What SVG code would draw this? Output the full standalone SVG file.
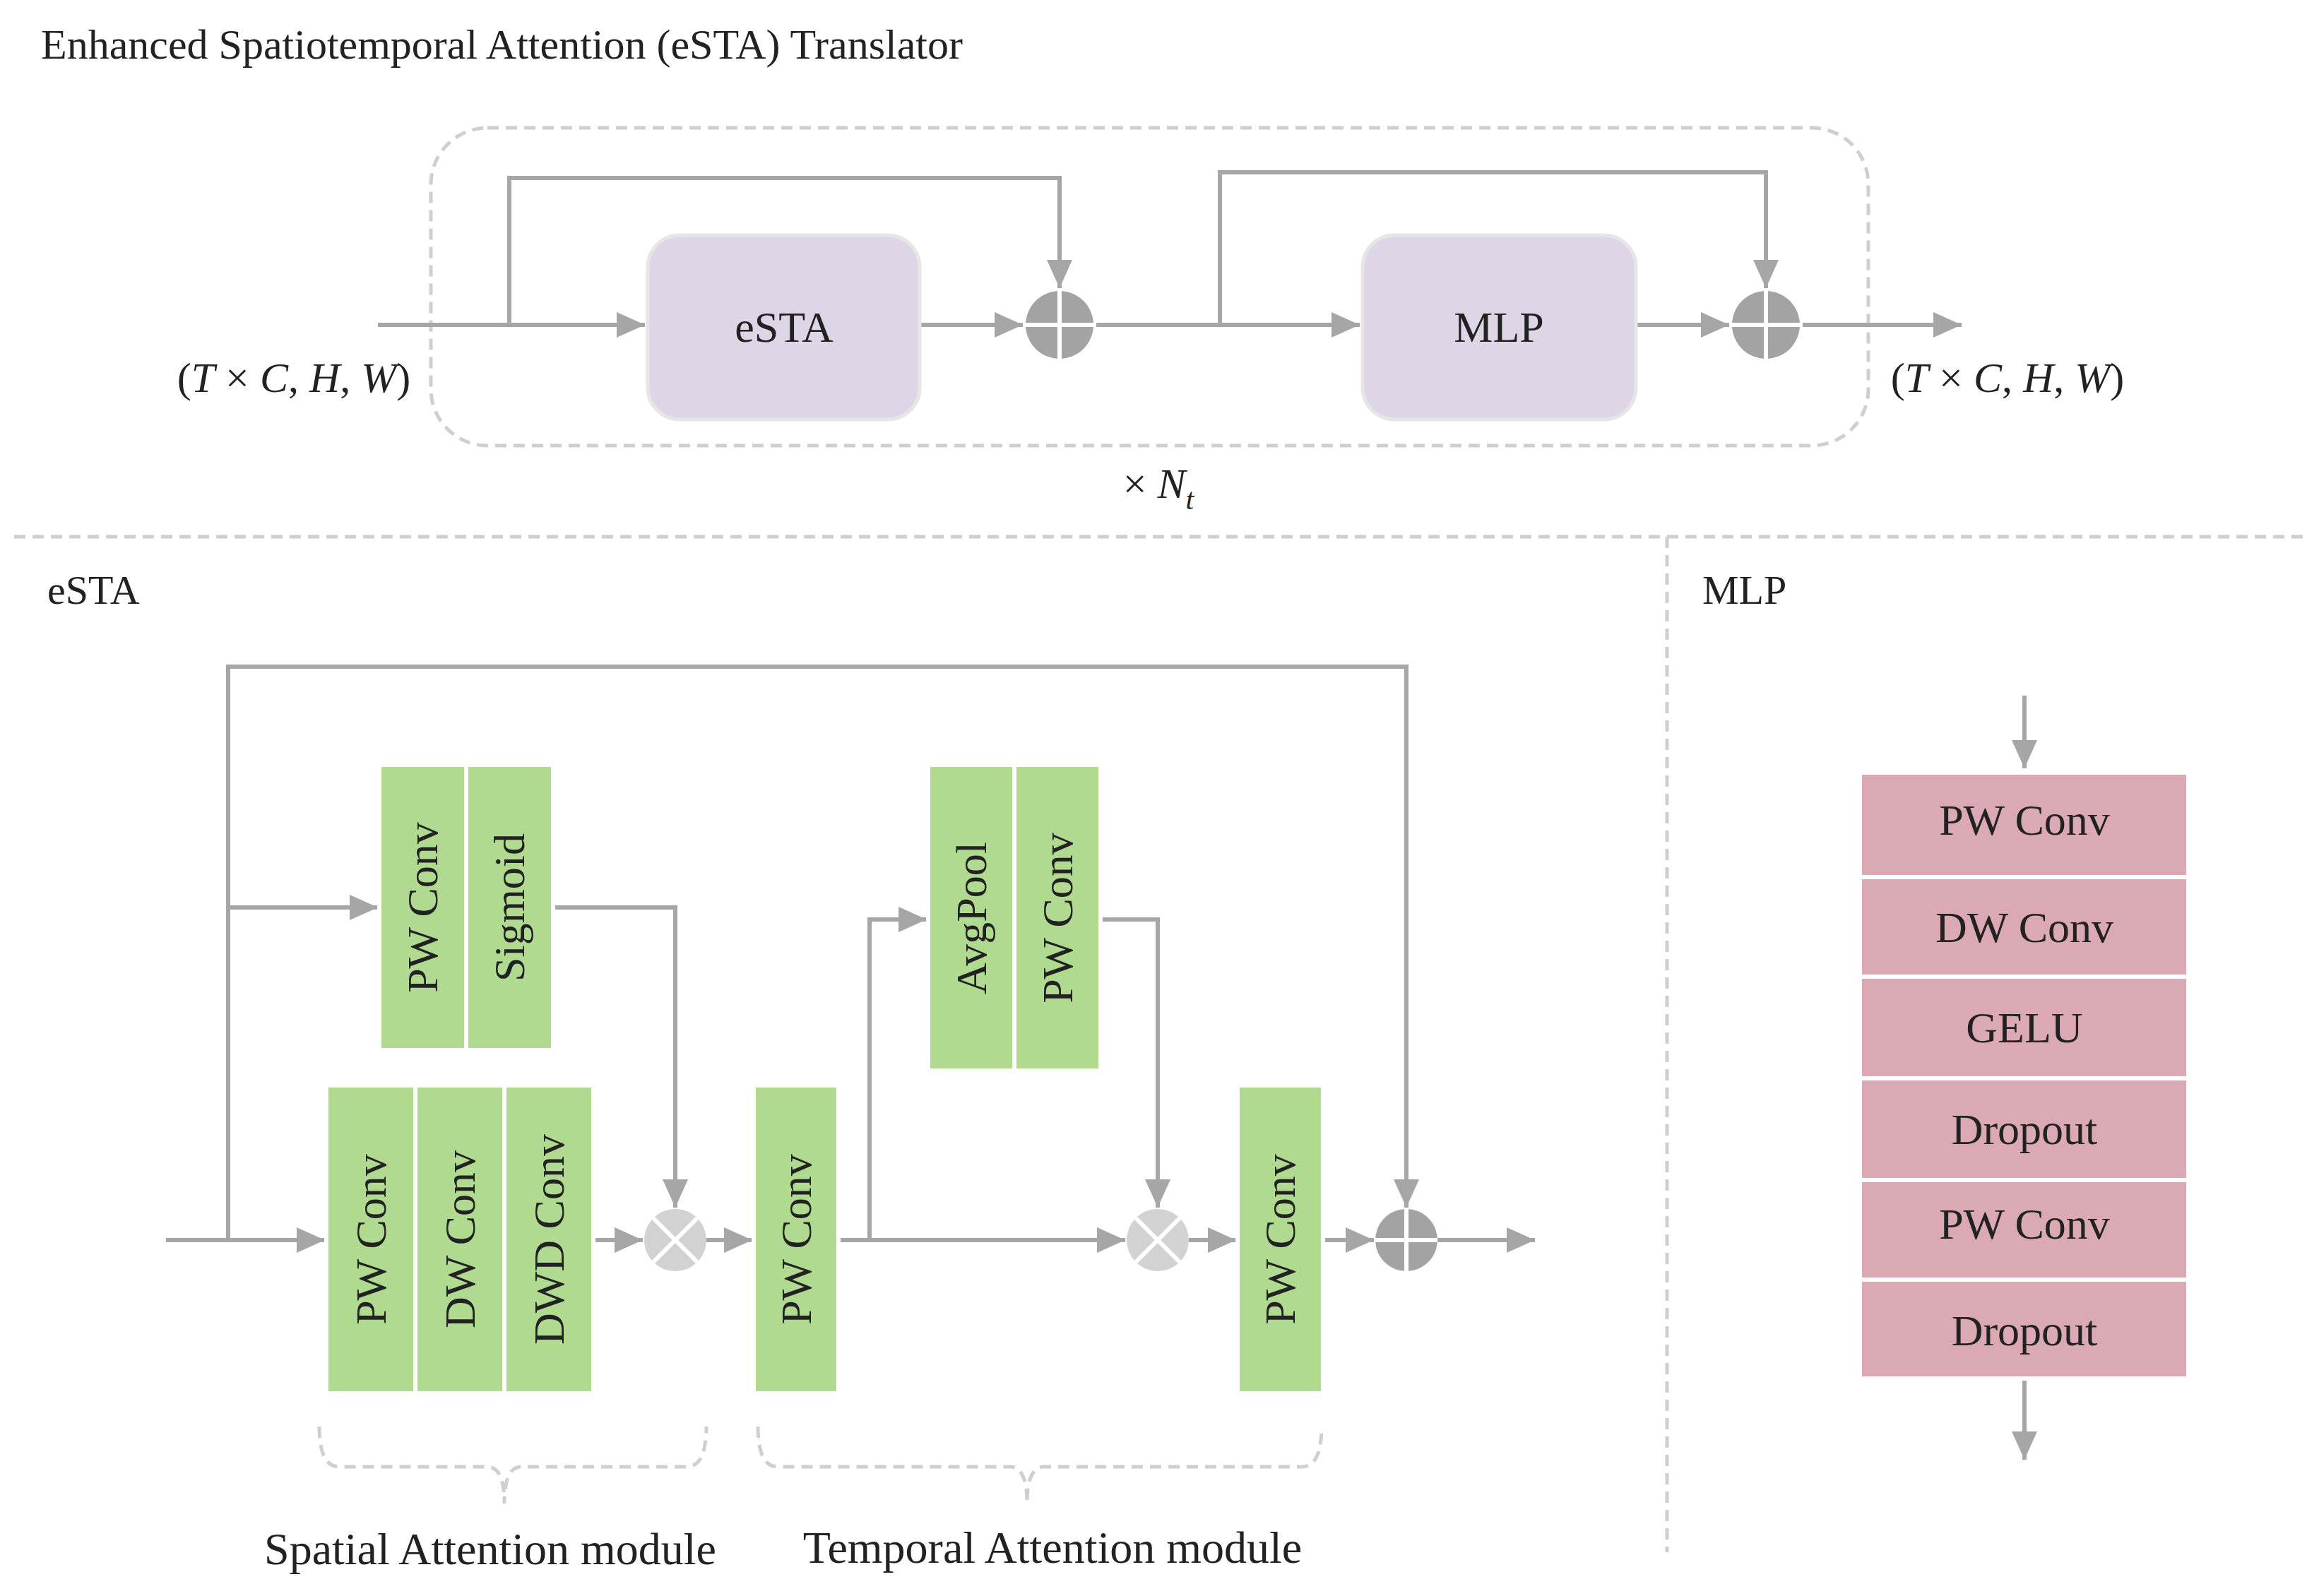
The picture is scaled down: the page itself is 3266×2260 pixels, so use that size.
<svg xmlns="http://www.w3.org/2000/svg" width="3266" height="2260" viewBox="0 0 3266 2260">
<defs>
<style>
text{font-family:"Liberation Serif","Times New Roman",serif;fill:#222}
.ln{fill:none;stroke:#a6a6a6;stroke-width:6}
.bx{fill:#b0da90;stroke:#ffffff;stroke-width:6}
.mb{fill:#dba9b3;stroke:#ffffff;stroke-width:6}
.pb{fill:#ded6e6;stroke:#e6e6e6;stroke-width:5}
.t{font-size:62px;text-anchor:middle;dominant-baseline:central}
.dash{fill:none;stroke:#cfcfcf;stroke-width:5;stroke-dasharray:16 10}
.plus{fill:#a3a3a3}
.mul{fill:#d2d2d2}
.cr{stroke:#fff;stroke-width:6}
.m{font-style:italic}
</style>
<marker id="a" markerUnits="userSpaceOnUse" markerWidth="44" markerHeight="40" refX="40" refY="20" orient="auto"><path d="M0,2 L40,20 L0,38 Z" fill="#a6a6a6"/></marker>
</defs>
<rect width="3266" height="2260" fill="#fff"/>
<text x="58" y="83" font-size="60">Enhanced Spatiotemporal Attention (eSTA) Translator</text>
<rect class="dash" x="610" y="181" width="2035" height="450" rx="80"/>
<line class="dash" x1="20" y1="760" x2="3266" y2="760"/>
<line class="dash" x1="2360" y1="760" x2="2360" y2="2198"/>
<text x="416" y="555" font-size="60" text-anchor="middle">(<tspan class="m">T</tspan> × <tspan class="m">C</tspan>, <tspan class="m">H</tspan>, <tspan class="m">W</tspan>)</text>
<text x="2842" y="555" font-size="60" text-anchor="middle">(<tspan class="m">T</tspan> × <tspan class="m">C</tspan>, <tspan class="m">H</tspan>, <tspan class="m">W</tspan>)</text>
<text x="1640" y="705" font-size="60" text-anchor="middle">× <tspan class="m">N</tspan><tspan class="m" font-size="42" dy="16">t</tspan></text>
<text x="67" y="855" font-size="58">eSTA</text>
<text x="2410" y="855" font-size="58">MLP</text>
<g id="connectors">
<path class="ln" d="M535,460 H913" marker-end="url(#a)"/>
<path class="ln" d="M721,460 V252 H1500 V408" marker-end="url(#a)"/>
<path class="ln" d="M1302,460 H1448" marker-end="url(#a)"/>
<path class="ln" d="M1552,460 H1925" marker-end="url(#a)"/>
<path class="ln" d="M1727,460 V244 H2500 V408" marker-end="url(#a)"/>
<path class="ln" d="M2316,460 H2448" marker-end="url(#a)"/>
<path class="ln" d="M2552,460 H2777" marker-end="url(#a)"/>
<path class="ln" d="M235,1756 H460" marker-end="url(#a)"/>
<path class="ln" d="M323,1756 V944 H1991 V1710" marker-end="url(#a)"/>
<path class="ln" d="M323,1285 H535" marker-end="url(#a)"/>
<path class="ln" d="M785,1285 H956 V1710" marker-end="url(#a)"/>
<path class="ln" d="M843,1756 H910" marker-end="url(#a)"/>
<path class="ln" d="M1000,1756 H1065" marker-end="url(#a)"/>
<path class="ln" d="M1189,1756 H1593" marker-end="url(#a)"/>
<path class="ln" d="M1231,1756 V1302 H1312" marker-end="url(#a)"/>
<path class="ln" d="M1560,1302 H1639 V1710" marker-end="url(#a)"/>
<path class="ln" d="M1683,1756 H1750" marker-end="url(#a)"/>
<path class="ln" d="M1875,1756 H1945" marker-end="url(#a)"/>
<path class="ln" d="M2035,1756 H2173" marker-end="url(#a)"/>
<path class="ln" d="M2866,985 V1088" marker-end="url(#a)"/>
<path class="ln" d="M2866,1955 V2067" marker-end="url(#a)"/>
</g>
<g id="esta-box"><rect class="pb" x="917" y="333" width="385" height="261" rx="45"/><text class="t" x="1110" y="463">eSTA</text></g>
<g id="mlp-box"><rect class="pb" x="1929" y="333" width="387" height="261" rx="45"/><text class="t" x="2122" y="463">MLP</text></g>
<g id="add1"><circle class="plus" cx="1500" cy="460" r="48"/><path class="cr" d="M1452,460 H1548 M1500,412 V508"/></g>
<g id="add2"><circle class="plus" cx="2500" cy="460" r="48"/><path class="cr" d="M2452,460 H2548 M2500,412 V508"/></g>
<g id="sa-top">
<rect class="bx" x="537" y="1083" width="123" height="404"/><text class="t" transform="translate(598,1285) rotate(-90)">PW Conv</text>
<rect class="bx" x="660" y="1083" width="123" height="404"/><text class="t" transform="translate(721,1285) rotate(-90)">Sigmoid</text>
</g>
<g id="sa-main">
<rect class="bx" x="462" y="1537" width="126" height="436"/><text class="t" transform="translate(525,1755) rotate(-90)">PW Conv</text>
<rect class="bx" x="588" y="1537" width="126" height="436"/><text class="t" transform="translate(651,1755) rotate(-90)">DW Conv</text>
<rect class="bx" x="714" y="1537" width="126" height="436"/><text class="t" transform="translate(777,1755) rotate(-90)">DWD Conv</text>
</g>
<g id="mul1"><circle class="mul" cx="956" cy="1756" r="44"/><path class="cr" d="M925,1725 L987,1787 M987,1725 L925,1787"/></g>
<g id="ta-pw1"><rect class="bx" x="1067" y="1537" width="120" height="436"/><text class="t" transform="translate(1127,1755) rotate(-90)">PW Conv</text></g>
<g id="ta-top">
<rect class="bx" x="1314" y="1083" width="122" height="433"/><text class="t" transform="translate(1375,1300) rotate(-90)">AvgPool</text>
<rect class="bx" x="1436" y="1083" width="122" height="433"/><text class="t" transform="translate(1497,1300) rotate(-90)">PW Conv</text>
</g>
<g id="mul2"><circle class="mul" cx="1639" cy="1756" r="44"/><path class="cr" d="M1608,1725 L1670,1787 M1670,1725 L1608,1787"/></g>
<g id="ta-pw2"><rect class="bx" x="1752" y="1537" width="121" height="436"/><text class="t" transform="translate(1812,1755) rotate(-90)">PW Conv</text></g>
<g id="add3"><circle class="plus" cx="1991" cy="1756" r="44"/><path class="cr" d="M1947,1756 H2035 M1991,1712 V1800"/></g>
<g id="braces">
<path class="dash" d="M452,2020 Q452,2077 480,2077 H690 Q714,2077 714,2129 Q714,2077 738,2077 H972 Q1000,2077 1000,2020"/>
<path class="dash" d="M1073,2020 Q1073,2077 1101,2077 H1430 Q1454,2077 1454,2129 Q1454,2077 1478,2077 H1843 Q1871,2077 1871,2020"/>
</g>
<text x="694" y="2215" font-size="64" text-anchor="middle">Spatial Attention module</text>
<text x="1490" y="2213" font-size="64" text-anchor="middle">Temporal Attention module</text>
<g id="mlp-stack">
<rect class="mb" x="2633" y="1094" width="465" height="148"/><text class="t" x="2866" y="1161">PW Conv</text>
<rect class="mb" x="2633" y="1242" width="465" height="141"/><text class="t" x="2866" y="1313">DW Conv</text>
<rect class="mb" x="2633" y="1383" width="465" height="144"/><text class="t" x="2866" y="1455">GELU</text>
<rect class="mb" x="2633" y="1527" width="465" height="144"/><text class="t" x="2866" y="1599">Dropout</text>
<rect class="mb" x="2633" y="1671" width="465" height="141"/><text class="t" x="2866" y="1733">PW Conv</text>
<rect class="mb" x="2633" y="1812" width="465" height="140"/><text class="t" x="2866" y="1884">Dropout</text>
</g>
</svg>
